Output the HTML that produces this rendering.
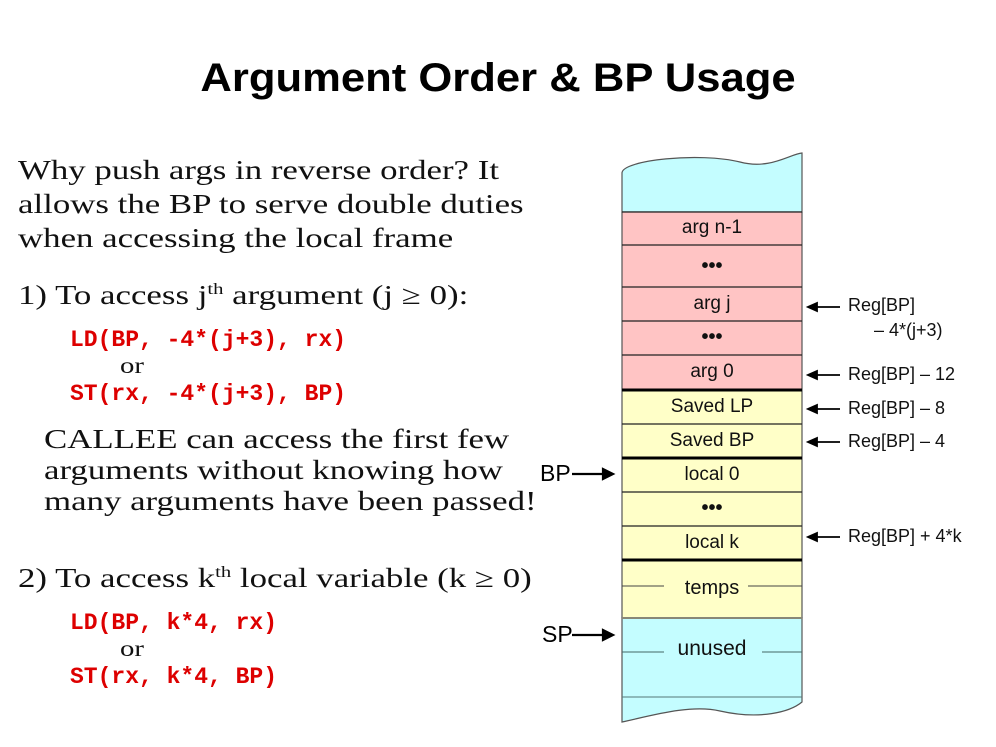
<!DOCTYPE html>
<html><head><meta charset="utf-8"><style>
body{margin:0;width:996px;height:747px;background:#fff;position:relative;overflow:hidden;font-family:"Liberation Sans",sans-serif}
.a{position:absolute;white-space:nowrap}
.s{font-family:"Liberation Serif",serif;font-size:27px;color:#111;transform:scaleX(1.29);transform-origin:0 0}
.c{font-family:"Liberation Mono",monospace;font-size:23px;color:#d00;font-weight:bold}
.o{font-family:"Liberation Serif",serif;font-size:23px;color:#111;transform:scaleX(1.25);transform-origin:0 0}
.r{font-size:18px;color:#111}
.l{left:622px;width:180px;text-align:center;font-size:19px;color:#111}
.d{left:622px;width:180px;text-align:center;font-size:20px;font-weight:bold;color:#111}
</style></head><body>
<div class="a" style="left:0;width:996px;text-align:center;top:56px;font-size:40px;font-weight:bold;color:#000;transform:scaleX(1.09)">Argument Order &amp; BP Usage</div>

<div class="a s" style="left:18px;top:153px;line-height:34px">Why push args in reverse order? It<br>allows the BP to serve double duties<br>when accessing the local frame</div>
<div class="a s" style="left:18px;top:280px">1) To access j<sup style="font-size:16px">th</sup> argument (j ≥ 0):</div>
<div class="a c" style="left:70px;top:327px">LD(BP, -4*(j+3), rx)</div>
<div class="a o" style="left:120px;top:353px">or</div>
<div class="a c" style="left:70px;top:381px">ST(rx, -4*(j+3), BP)</div>
<div class="a s" style="left:44px;top:424px;line-height:31px">CALLEE can access the first few<br>arguments without knowing how<br>many arguments have been passed!</div>
<div class="a s" style="left:18px;top:563px">2) To access k<sup style="font-size:16px">th</sup> local variable (k ≥ 0)</div>
<div class="a c" style="left:70px;top:610px">LD(BP, k*4, rx)</div>
<div class="a o" style="left:120px;top:636px">or</div>
<div class="a c" style="left:70px;top:664px">ST(rx, k*4, BP)</div>

<svg class="a" style="left:0;top:0" width="996" height="747">
<path d="M622,173 C622,160 700,152 740,162 C770,170 790,154 802,153 L802,212 L622,212Z" fill="#c4fdff" stroke="#555" stroke-width="1.2"/>
<rect x="622" y="212" width="180" height="178" fill="#ffc4c4"/>
<rect x="622" y="390" width="180" height="228" fill="#ffffc8"/>
<path d="M622,618 L802,618 L802,702 C790,712 760,720 720,711 C690,704 650,716 622,722Z" fill="#c4fdff" stroke="#555" stroke-width="1.2"/>
<line x1="622" y1="212" x2="622" y2="618" stroke="#555" stroke-width="1.2"/>
<line x1="802" y1="212" x2="802" y2="618" stroke="#555" stroke-width="1.2"/>
<g stroke="#222" stroke-width="1.2">
<line x1="622" y1="212" x2="802" y2="212"/><line x1="622" y1="245" x2="802" y2="245"/>
<line x1="622" y1="287" x2="802" y2="287"/><line x1="622" y1="321" x2="802" y2="321"/>
<line x1="622" y1="355" x2="802" y2="355"/><line x1="622" y1="424" x2="802" y2="424"/>
<line x1="622" y1="492" x2="802" y2="492"/><line x1="622" y1="526" x2="802" y2="526"/>
</g>
<g stroke="#000" stroke-width="3">
<line x1="622" y1="390" x2="802" y2="390"/><line x1="622" y1="458" x2="802" y2="458"/><line x1="622" y1="560" x2="802" y2="560"/>
</g>
<line x1="622" y1="618" x2="802" y2="618" stroke="#887" stroke-width="2"/>
<line x1="622" y1="697" x2="802" y2="697" stroke="#577" stroke-width="1"/>
<line x1="622" y1="586" x2="664" y2="586" stroke="#444"/><line x1="748" y1="586" x2="802" y2="586" stroke="#444"/>
<line x1="622" y1="652" x2="664" y2="652" stroke="#466"/><line x1="762" y1="652" x2="802" y2="652" stroke="#466"/>
<g stroke="#000" stroke-width="2.2" fill="#000">
<line x1="572" y1="474" x2="605" y2="474"/><path d="M613,474 L603,469 L603,479Z"/>
<line x1="572" y1="635" x2="605" y2="635"/><path d="M613,635 L603,630 L603,640Z"/>
</g>
<g stroke="#000" stroke-width="1.8" fill="#000">
<line x1="815" y1="307" x2="840" y2="307"/><path d="M808,307 L817,303 L817,311Z"/>
<line x1="815" y1="375" x2="840" y2="375"/><path d="M808,375 L817,371 L817,379Z"/>
<line x1="815" y1="409" x2="840" y2="409"/><path d="M808,409 L817,405 L817,413Z"/>
<line x1="815" y1="442" x2="840" y2="442"/><path d="M808,442 L817,438 L817,446Z"/>
<line x1="815" y1="537" x2="840" y2="537"/><path d="M808,537 L817,533 L817,541Z"/>
</g>
</svg>
<div class="a l" style="top:217px">arg n-1</div>
<div class="a d" style="top:255px">•••</div>
<div class="a l" style="top:293px">arg j</div>
<div class="a d" style="top:326px">•••</div>
<div class="a l" style="top:361px">arg 0</div>
<div class="a l" style="top:396px">Saved LP</div>
<div class="a l" style="top:430px">Saved BP</div>
<div class="a l" style="top:464px">local 0</div>
<div class="a d" style="top:497px">•••</div>
<div class="a l" style="top:532px">local k</div>
<div class="a l" style="top:577px;font-size:20px">temps</div>
<div class="a l" style="top:637px;font-size:21px">unused</div>
<div class="a" style="left:540px;top:460px;font-size:23px;color:#000">BP</div>
<div class="a" style="left:542px;top:621px;font-size:23px;color:#000">SP</div>
<div class="a r" style="left:848px;top:295px">Reg[BP]</div>
<div class="a r" style="left:874px;top:320px">– 4*(j+3)</div>
<div class="a r" style="left:848px;top:364px">Reg[BP] – 12</div>
<div class="a r" style="left:848px;top:398px">Reg[BP] – 8</div>
<div class="a r" style="left:848px;top:431px">Reg[BP] – 4</div>
<div class="a r" style="left:848px;top:526px">Reg[BP] + 4*k</div>
</body></html>
